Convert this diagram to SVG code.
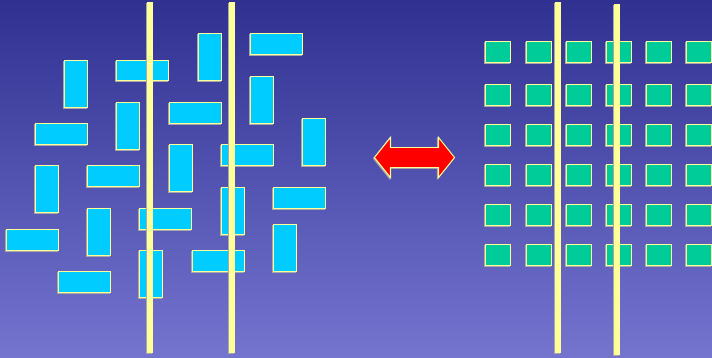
<svg xmlns="http://www.w3.org/2000/svg" width="712" height="358" viewBox="0 0 712 358">
  <defs>
    <linearGradient id="bg" x1="0" y1="0" x2="0" y2="1">
      <stop offset="0" stop-color="#2F3090"/>
      <stop offset="1" stop-color="#7575D0"/>
    </linearGradient>
    <filter id="shade" x="-20%" y="-20%" width="140%" height="140%">
      <feDropShadow dx="-1" dy="1" stdDeviation="0" flood-color="#A8A8A8" flood-opacity="1"/>
    </filter>
    <style>
      .chip { fill: #00CCFF; stroke: #FFFF99; stroke-width: 1; filter: url(#shade); }
      .cell { fill: #00CC99; stroke: #FFFF99; stroke-width: 1; filter: url(#shade); }
      .bar  { fill: #FFFF99; filter: url(#shade); }
      .swap { fill: #FF0000; stroke: #FFFF99; stroke-width: 1.2; stroke-linejoin: miter; filter: url(#shade); }
    </style>
  </defs>

  <!-- backdrop -->
  <rect x="0" y="0" width="712" height="358" fill="url(#bg)"/>

  <!-- scattered blocks, left cluster -->
  <g id="scattered">
    <g id="s1"><rect class="chip" x="64.5" y="60.5" width="23" height="47"/></g>
    <g id="s2"><rect class="chip" x="116.5" y="60.5" width="52" height="20"/></g>
    <g id="s3"><rect class="chip" x="198.5" y="33.5" width="23" height="47"/></g>
    <g id="s4"><rect class="chip" x="250.5" y="33.5" width="52" height="21"/></g>
    <g id="s5"><rect class="chip" x="116.5" y="102.5" width="23" height="47"/></g>
    <g id="s6"><rect class="chip" x="169.5" y="102.5" width="52" height="21"/></g>
    <g id="s7"><rect class="chip" x="250.5" y="76.5" width="23" height="47"/></g>
    <g id="s8"><rect class="chip" x="35.5" y="123.5" width="52" height="21"/></g>
    <g id="s9"><rect class="chip" x="302.5" y="118.5" width="23" height="47"/></g>
    <g id="s10"><rect class="chip" x="169.5" y="144.5" width="23" height="47"/></g>
    <g id="s11"><rect class="chip" x="221.5" y="144.5" width="52" height="21"/></g>
    <g id="s12"><rect class="chip" x="35.5" y="165.5" width="23" height="47"/></g>
    <g id="s13"><rect class="chip" x="87.5" y="165.5" width="52" height="21"/></g>
    <g id="s14"><rect class="chip" x="87.5" y="208.5" width="23" height="47"/></g>
    <g id="s15"><rect class="chip" x="139.5" y="208.5" width="52" height="21"/></g>
    <g id="s16"><rect class="chip" x="221.5" y="187.5" width="23" height="47"/></g>
    <g id="s17"><rect class="chip" x="273.5" y="187.5" width="52" height="21"/></g>
    <g id="s18"><rect class="chip" x="6.5" y="229.5" width="52" height="21"/></g>
    <g id="s19"><rect class="chip" x="139.5" y="250.5" width="23" height="47"/></g>
    <g id="s20"><rect class="chip" x="192.5" y="250.5" width="52" height="21"/></g>
    <g id="s21"><rect class="chip" x="273.5" y="224.5" width="23" height="47"/></g>
    <g id="s22"><rect class="chip" x="58.5" y="271.5" width="52" height="21"/></g>
  </g>

  <!-- regular grid, right side -->
  <g id="grid">
    <g id="r1">
      <rect class="cell" x="485.5" y="41.5" width="25" height="21"/>
      <rect class="cell" x="526.5" y="41.5" width="25" height="21"/>
      <rect class="cell" x="566.5" y="41.5" width="25" height="21"/>
      <rect class="cell" x="606.5" y="41.5" width="25" height="21"/>
      <rect class="cell" x="646.5" y="41.5" width="25" height="21"/>
      <rect class="cell" x="686.5" y="41.5" width="25" height="21"/>
    </g>
    <g id="r2">
      <rect class="cell" x="485.5" y="84.5" width="25" height="21"/>
      <rect class="cell" x="526.5" y="84.5" width="25" height="21"/>
      <rect class="cell" x="566.5" y="84.5" width="25" height="21"/>
      <rect class="cell" x="606.5" y="84.5" width="25" height="21"/>
      <rect class="cell" x="646.5" y="84.5" width="25" height="21"/>
      <rect class="cell" x="686.5" y="84.5" width="25" height="21"/>
    </g>
    <g id="r3">
      <rect class="cell" x="485.5" y="124.5" width="25" height="21"/>
      <rect class="cell" x="526.5" y="124.5" width="25" height="21"/>
      <rect class="cell" x="566.5" y="124.5" width="25" height="21"/>
      <rect class="cell" x="606.5" y="124.5" width="25" height="21"/>
      <rect class="cell" x="646.5" y="124.5" width="25" height="21"/>
      <rect class="cell" x="686.5" y="124.5" width="25" height="21"/>
    </g>
    <g id="r4">
      <rect class="cell" x="485.5" y="164.5" width="25" height="21"/>
      <rect class="cell" x="526.5" y="164.5" width="25" height="21"/>
      <rect class="cell" x="566.5" y="164.5" width="25" height="21"/>
      <rect class="cell" x="606.5" y="164.5" width="25" height="21"/>
      <rect class="cell" x="646.5" y="164.5" width="25" height="21"/>
      <rect class="cell" x="686.5" y="164.5" width="25" height="21"/>
    </g>
    <g id="r5">
      <rect class="cell" x="485.5" y="204.5" width="25" height="21"/>
      <rect class="cell" x="526.5" y="204.5" width="25" height="21"/>
      <rect class="cell" x="566.5" y="204.5" width="25" height="21"/>
      <rect class="cell" x="606.5" y="204.5" width="25" height="21"/>
      <rect class="cell" x="646.5" y="204.5" width="25" height="21"/>
      <rect class="cell" x="686.5" y="204.5" width="25" height="21"/>
    </g>
    <g id="r6">
      <rect class="cell" x="485.5" y="244.5" width="25" height="21"/>
      <rect class="cell" x="526.5" y="244.5" width="25" height="21"/>
      <rect class="cell" x="566.5" y="244.5" width="25" height="21"/>
      <rect class="cell" x="606.5" y="244.5" width="25" height="21"/>
      <rect class="cell" x="646.5" y="244.5" width="25" height="21"/>
      <rect class="cell" x="686.5" y="244.5" width="25" height="21"/>
    </g>
  </g>

  <!-- vertical cut lines -->
  <g id="cut-lines">
    <rect class="bar" x="147" y="2" width="6" height="351"/>
    <rect class="bar" x="229" y="2" width="6" height="351"/>
    <rect class="bar" x="555" y="2" width="6" height="351"/>
    <rect class="bar" x="614" y="4" width="6" height="351"/>
  </g>

  <!-- two-way arrow between the layouts -->
  <g id="connectors">
    <path class="swap" d="M374.5,157.5 L390.5,137.5 L390.5,147.5 L438.5,147.5 L438.5,137.5 L454.5,157.5 L438.5,177.5 L438.5,167.5 L390.5,167.5 L390.5,177.5 Z"/>
  </g>
</svg>
